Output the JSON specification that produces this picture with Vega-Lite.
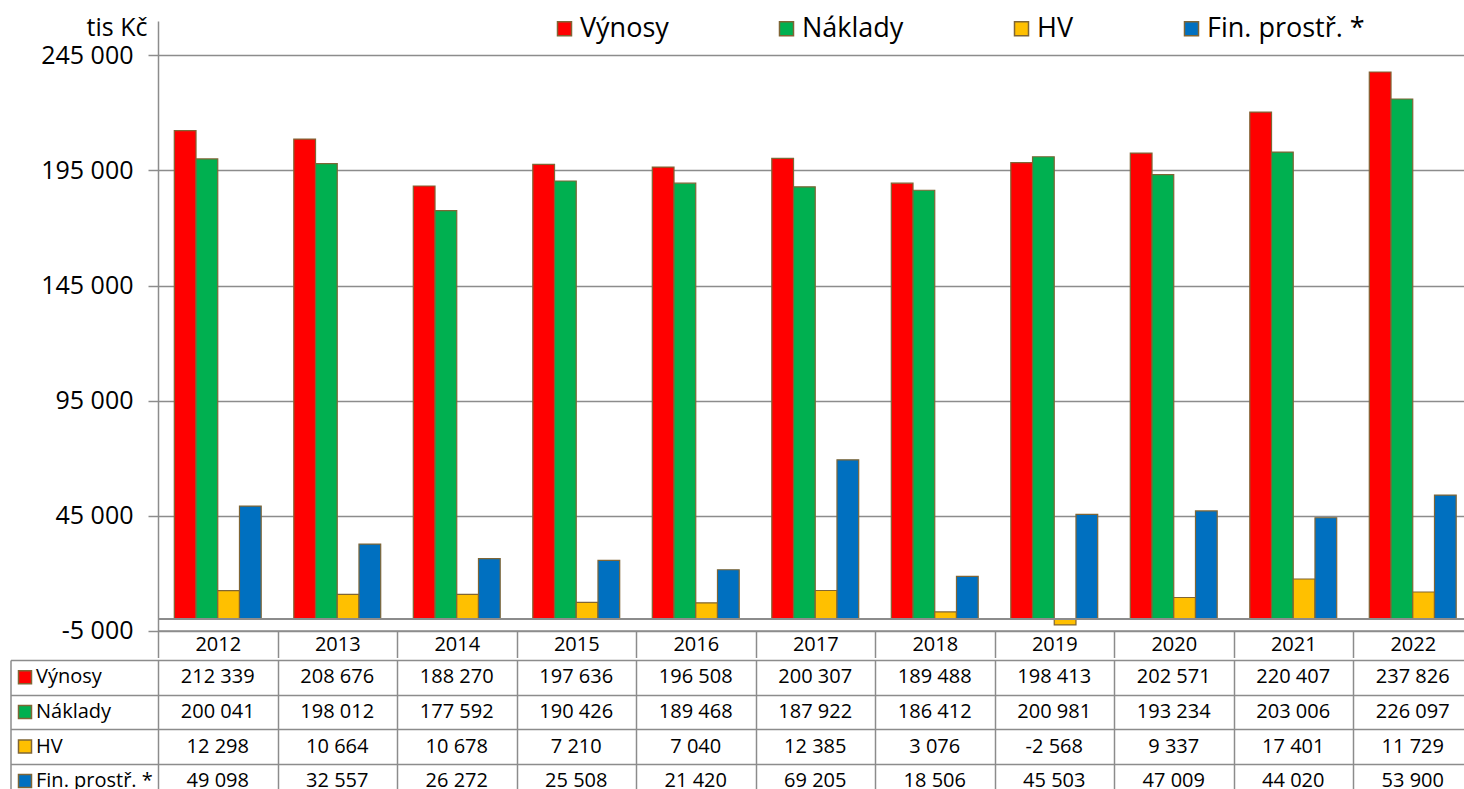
{
  "$schema": "https://vega.github.io/schema/vega-lite/v6.json",
  "padding": {"left": 9, "top": 15, "right": 0, "bottom": 0},
  "config": {
    "font": "Open Sans",
    "locale": {"number": {"decimal": ",", "thousands": " ", "grouping": [3], "currency": ["", " Kč"], "minus": "-"}},
    "view": {"stroke": null},
    "axis": {"labelColor": "#000000", "titleColor": "#000000"},
    "legend": {"labelColor": "#000000"}
  },
  "data": {"values": [
    {"year": "2012", "series": "Výnosy", "value": 212339},
    {"year": "2013", "series": "Výnosy", "value": 208676},
    {"year": "2014", "series": "Výnosy", "value": 188270},
    {"year": "2015", "series": "Výnosy", "value": 197636},
    {"year": "2016", "series": "Výnosy", "value": 196508},
    {"year": "2017", "series": "Výnosy", "value": 200307},
    {"year": "2018", "series": "Výnosy", "value": 189488},
    {"year": "2019", "series": "Výnosy", "value": 198413},
    {"year": "2020", "series": "Výnosy", "value": 202571},
    {"year": "2021", "series": "Výnosy", "value": 220407},
    {"year": "2022", "series": "Výnosy", "value": 237826},
    {"year": "2012", "series": "Náklady", "value": 200041},
    {"year": "2013", "series": "Náklady", "value": 198012},
    {"year": "2014", "series": "Náklady", "value": 177592},
    {"year": "2015", "series": "Náklady", "value": 190426},
    {"year": "2016", "series": "Náklady", "value": 189468},
    {"year": "2017", "series": "Náklady", "value": 187922},
    {"year": "2018", "series": "Náklady", "value": 186412},
    {"year": "2019", "series": "Náklady", "value": 200981},
    {"year": "2020", "series": "Náklady", "value": 193234},
    {"year": "2021", "series": "Náklady", "value": 203006},
    {"year": "2022", "series": "Náklady", "value": 226097},
    {"year": "2012", "series": "HV", "value": 12298},
    {"year": "2013", "series": "HV", "value": 10664},
    {"year": "2014", "series": "HV", "value": 10678},
    {"year": "2015", "series": "HV", "value": 7210},
    {"year": "2016", "series": "HV", "value": 7040},
    {"year": "2017", "series": "HV", "value": 12385},
    {"year": "2018", "series": "HV", "value": 3076},
    {"year": "2019", "series": "HV", "value": -2568},
    {"year": "2020", "series": "HV", "value": 9337},
    {"year": "2021", "series": "HV", "value": 17401},
    {"year": "2022", "series": "HV", "value": 11729},
    {"year": "2012", "series": "Fin. prostř. *", "value": 49098},
    {"year": "2013", "series": "Fin. prostř. *", "value": 32557},
    {"year": "2014", "series": "Fin. prostř. *", "value": 26272},
    {"year": "2015", "series": "Fin. prostř. *", "value": 25508},
    {"year": "2016", "series": "Fin. prostř. *", "value": 21420},
    {"year": "2017", "series": "Fin. prostř. *", "value": 69205},
    {"year": "2018", "series": "Fin. prostř. *", "value": 18506},
    {"year": "2019", "series": "Fin. prostř. *", "value": 45503},
    {"year": "2020", "series": "Fin. prostř. *", "value": 47009},
    {"year": "2021", "series": "Fin. prostř. *", "value": 44020},
    {"year": "2022", "series": "Fin. prostř. *", "value": 53900}
  ]},
  "spacing": 0,
  "resolve": {"legend": {"color": "independent"}},
  "vconcat": [
    {
      "width": 1314.5,
      "height": 609.5,
      "encoding": {
        "y": {
          "field": "value", "type": "quantitative",
          "scale": {"domain": [-5000, 260000], "nice": false, "zero": false},
          "axis": {"title": "tis Kč", "titleAngle": 0, "titleAlign": "right", "titleBaseline": "alphabetic", "titleX": -11, "titleY": 14.5,
                   "titleFontSize": 25, "titleFontWeight": "normal",
                   "values": [-5000, 45000, 95000, 145000, 195000, 245000], "format": ",d",
                   "labelFontSize": 25, "labelPadding": 15, "tickSize": 10, "tickColor": "#8c8c8c", "tickWidth": 1.5,
                   "domainColor": "#8c8c8c", "domainWidth": 1.5, "grid": true, "gridColor": "#8c8c8c", "gridWidth": 1.5}
        }
      },
      "layer": [
        {
          "mark": {"type": "bar", "stroke": "#7f6535", "strokeWidth": 1.2},
          "encoding": {
            "x": {
              "field": "year", "type": "nominal",
              "scale": {"paddingInner": 0, "paddingOuter": 0},
              "axis": {"title": null, "labelAngle": 0, "tickBand": "extent", "tickSize": 27, "tickColor": "#8c8c8c", "tickWidth": 1.5,
                       "domainColor": "#8c8c8c", "domainWidth": 1.5, "labelFontSize": 20, "labelBaseline": "middle", "labelPadding": -13.5, "grid": false}
            },
            "xOffset": {
              "field": "series", "type": "nominal",
              "scale": {"domain": ["Výnosy", "Náklady", "HV", "Fin. prostř. *"], "paddingInner": 0, "paddingOuter": 0.75}
            },
            "color": {
              "field": "series", "type": "nominal",
              "scale": {"domain": ["Výnosy", "Náklady", "HV", "Fin. prostř. *"], "range": ["#ff0000", "#00b050", "#ffc000", "#0070c0"]},
              "legend": {"title": null, "orient": "none", "legendX": 393, "legendY": -6, "direction": "horizontal",
                         "symbolType": "square", "symbolSize": 196, "symbolStrokeColor": "#7f6535", "symbolStrokeWidth": 1.5,
                         "labelFontSize": 27, "labelOffset": 2, "columnPadding": 104, "padding": 0}
            }
          }
        },
        {
          "mark": {"type": "rule", "color": "#8c8c8c", "strokeWidth": 1.5},
          "encoding": {"y": {"datum": 0}}
        }
      ]
    },
    {
      "width": 1314.5,
      "height": 138.5,
      "layer": [
        {
          "mark": {"type": "text", "fontSize": 20, "color": "#000000"},
          "encoding": {
            "x": {
              "field": "year", "type": "nominal",
              "scale": {"paddingInner": 0, "paddingOuter": 0},
              "axis": {"title": null, "labels": false, "ticks": false, "domain": false, "grid": true, "tickBand": "extent", "gridColor": "#8c8c8c", "gridWidth": 1.5}
            },
            "y": {
              "field": "series", "type": "nominal",
              "scale": {"domain": ["Výnosy", "Náklady", "HV", "Fin. prostř. *"], "paddingInner": 0, "paddingOuter": 0},
              "axis": {"title": null, "labels": false, "offset": 147.5, "tickBand": "extent", "tickSize": -1462, "tickColor": "#8c8c8c", "tickWidth": 1.5,
                       "domainColor": "#8c8c8c", "domainWidth": 1.5, "grid": false}
            },
            "text": {"field": "value", "type": "quantitative", "format": ",d"}
          }
        },
        {
          "mark": {"type": "square", "opacity": 0, "size": 10},
          "encoding": {
            "x": {"field": "year", "type": "nominal"},
            "y": {"field": "series", "type": "nominal"},
            "color": {
              "field": "series", "type": "nominal",
              "legend": {"title": null, "orient": "none", "legendX": -143, "legendY": 7.3, "direction": "vertical",
                         "symbolType": "square", "symbolSize": 169, "symbolStrokeColor": "#7f6535", "symbolStrokeWidth": 1.5, "symbolOpacity": 1,
                         "labelFontSize": 20, "labelOffset": 1, "rowPadding": 14.6, "padding": 0}
            }
          }
        }
      ]
    }
  ]
}
